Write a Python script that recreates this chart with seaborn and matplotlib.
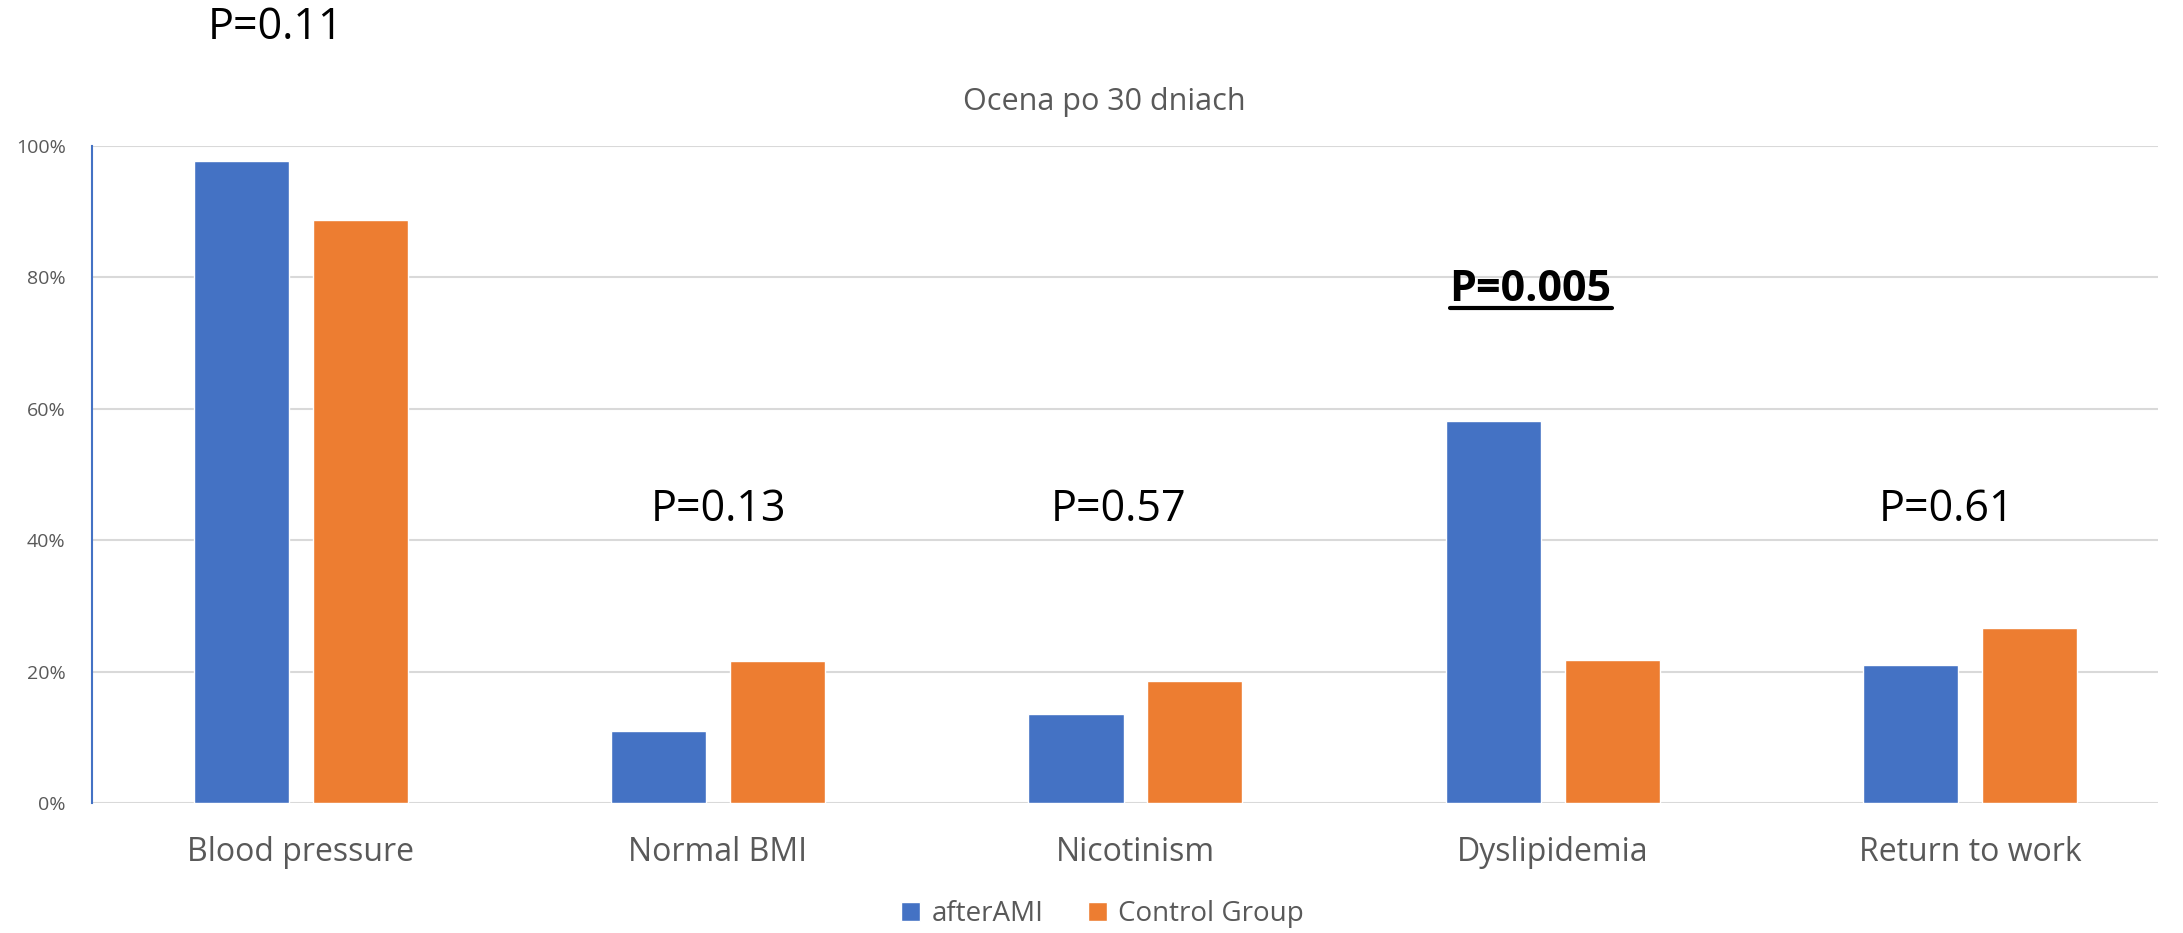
import pandas as pd
import numpy as np
import matplotlib
matplotlib.use("Agg")
import matplotlib.pyplot as plt
import seaborn as sns
from matplotlib.ticker import PercentFormatter

# values (percent)
categories = ["Blood pressure", "Normal BMI", "Nicotinism", "Dyslipidemia", "Return to work"]
after_ami = [97.7, 11.0, 13.6, 58.1, 21.0]
control_group = [88.8, 21.6, 18.6, 21.8, 26.7]
series_names = ["afterAMI", "Control Group"]
p_labels = ["P=0.11", "P=0.13", "P=0.57", "P=0.005", "P=0.61"]
p_x = [-0.06, 1.0, 1.96, 2.947, 3.943]
p_heights = [118, 44.7, 44.7, 78.2, 44.7]

df = pd.DataFrame({
    "category": categories * 2,
    "group": [series_names[0]] * 5 + [series_names[1]] * 5,
    "value": after_ami + control_group,
})

sns.set_theme(style="white")
plt.rcParams["font.family"] = ["Open Sans", "DejaVu Sans"]

fig = plt.figure(figsize=(21.83, 9.33), dpi=100)
ax = fig.add_axes([92 / 2183, 1 - 803 / 933, (2158 - 92) / 2183, (803 - 146) / 933])

palette = {"afterAMI": "#4472C4", "Control Group": "#ED7D31"}
sns.barplot(data=df, x="category", y="value", hue="group", palette=palette,
            width=0.57, gap=0.2, ax=ax, saturation=1, zorder=3)

ax.set_ylim(0, 100)
ax.set_xlim(-0.5, 4.45)
ax.set_yticks([0, 20, 40, 60, 80, 100])
ax.yaxis.set_major_formatter(PercentFormatter(decimals=0))
ax.grid(axis="y", color="#d9d9d9", linewidth=1.5, zorder=0)
ax.set_xlabel("")
ax.set_ylabel("")
for s in ["top", "right", "bottom"]:
    ax.spines[s].set_visible(False)
ax.spines["left"].set_color("#4472C4")
ax.spines["left"].set_linewidth(1.5)
ax.tick_params(axis="y", labelsize=14, labelcolor="#595959", length=0, pad=19)
ax.tick_params(axis="x", labelsize=23, labelcolor="#595959", length=0, pad=24)

ax.set_title("Ocena po 30 dniach", fontsize=22, color="#595959", pad=26, x=0.49)

# p-value annotations
texts = []
for x, lab, h in zip(p_x, p_labels, p_heights):
    bold = lab == "P=0.005"
    t = ax.text(x, h, lab, ha="center", va="center",
                fontsize=31, color="black", fontweight="bold" if bold else "normal",
                clip_on=False, zorder=5)
    texts.append(t)

handles, labels = ax.get_legend_handles_labels()
ax.get_legend().remove()
fig.legend(handles, labels, loc="center", bbox_to_anchor=(0.505, 0.02),
           ncol=2, frameon=False, fontsize=20, handlelength=0.7, handleheight=0.7,
           columnspacing=1.6, handletextpad=0.4, labelcolor="#595959")

# underline the significant p-value
fig.canvas.draw()
r = fig.canvas.get_renderer()
bb = texts[3].get_window_extent(renderer=r)
inv = fig.transFigure.inverted()
(x0, y0), (x1, _) = inv.transform([(bb.x0, bb.y0), (bb.x1, bb.y1)])
fig.add_artist(plt.Line2D([x0, x1], [y0 + 0.003, y0 + 0.003], color="black", linewidth=3,
                          transform=fig.transFigure))

fig.savefig("out.png", dpi=100)
